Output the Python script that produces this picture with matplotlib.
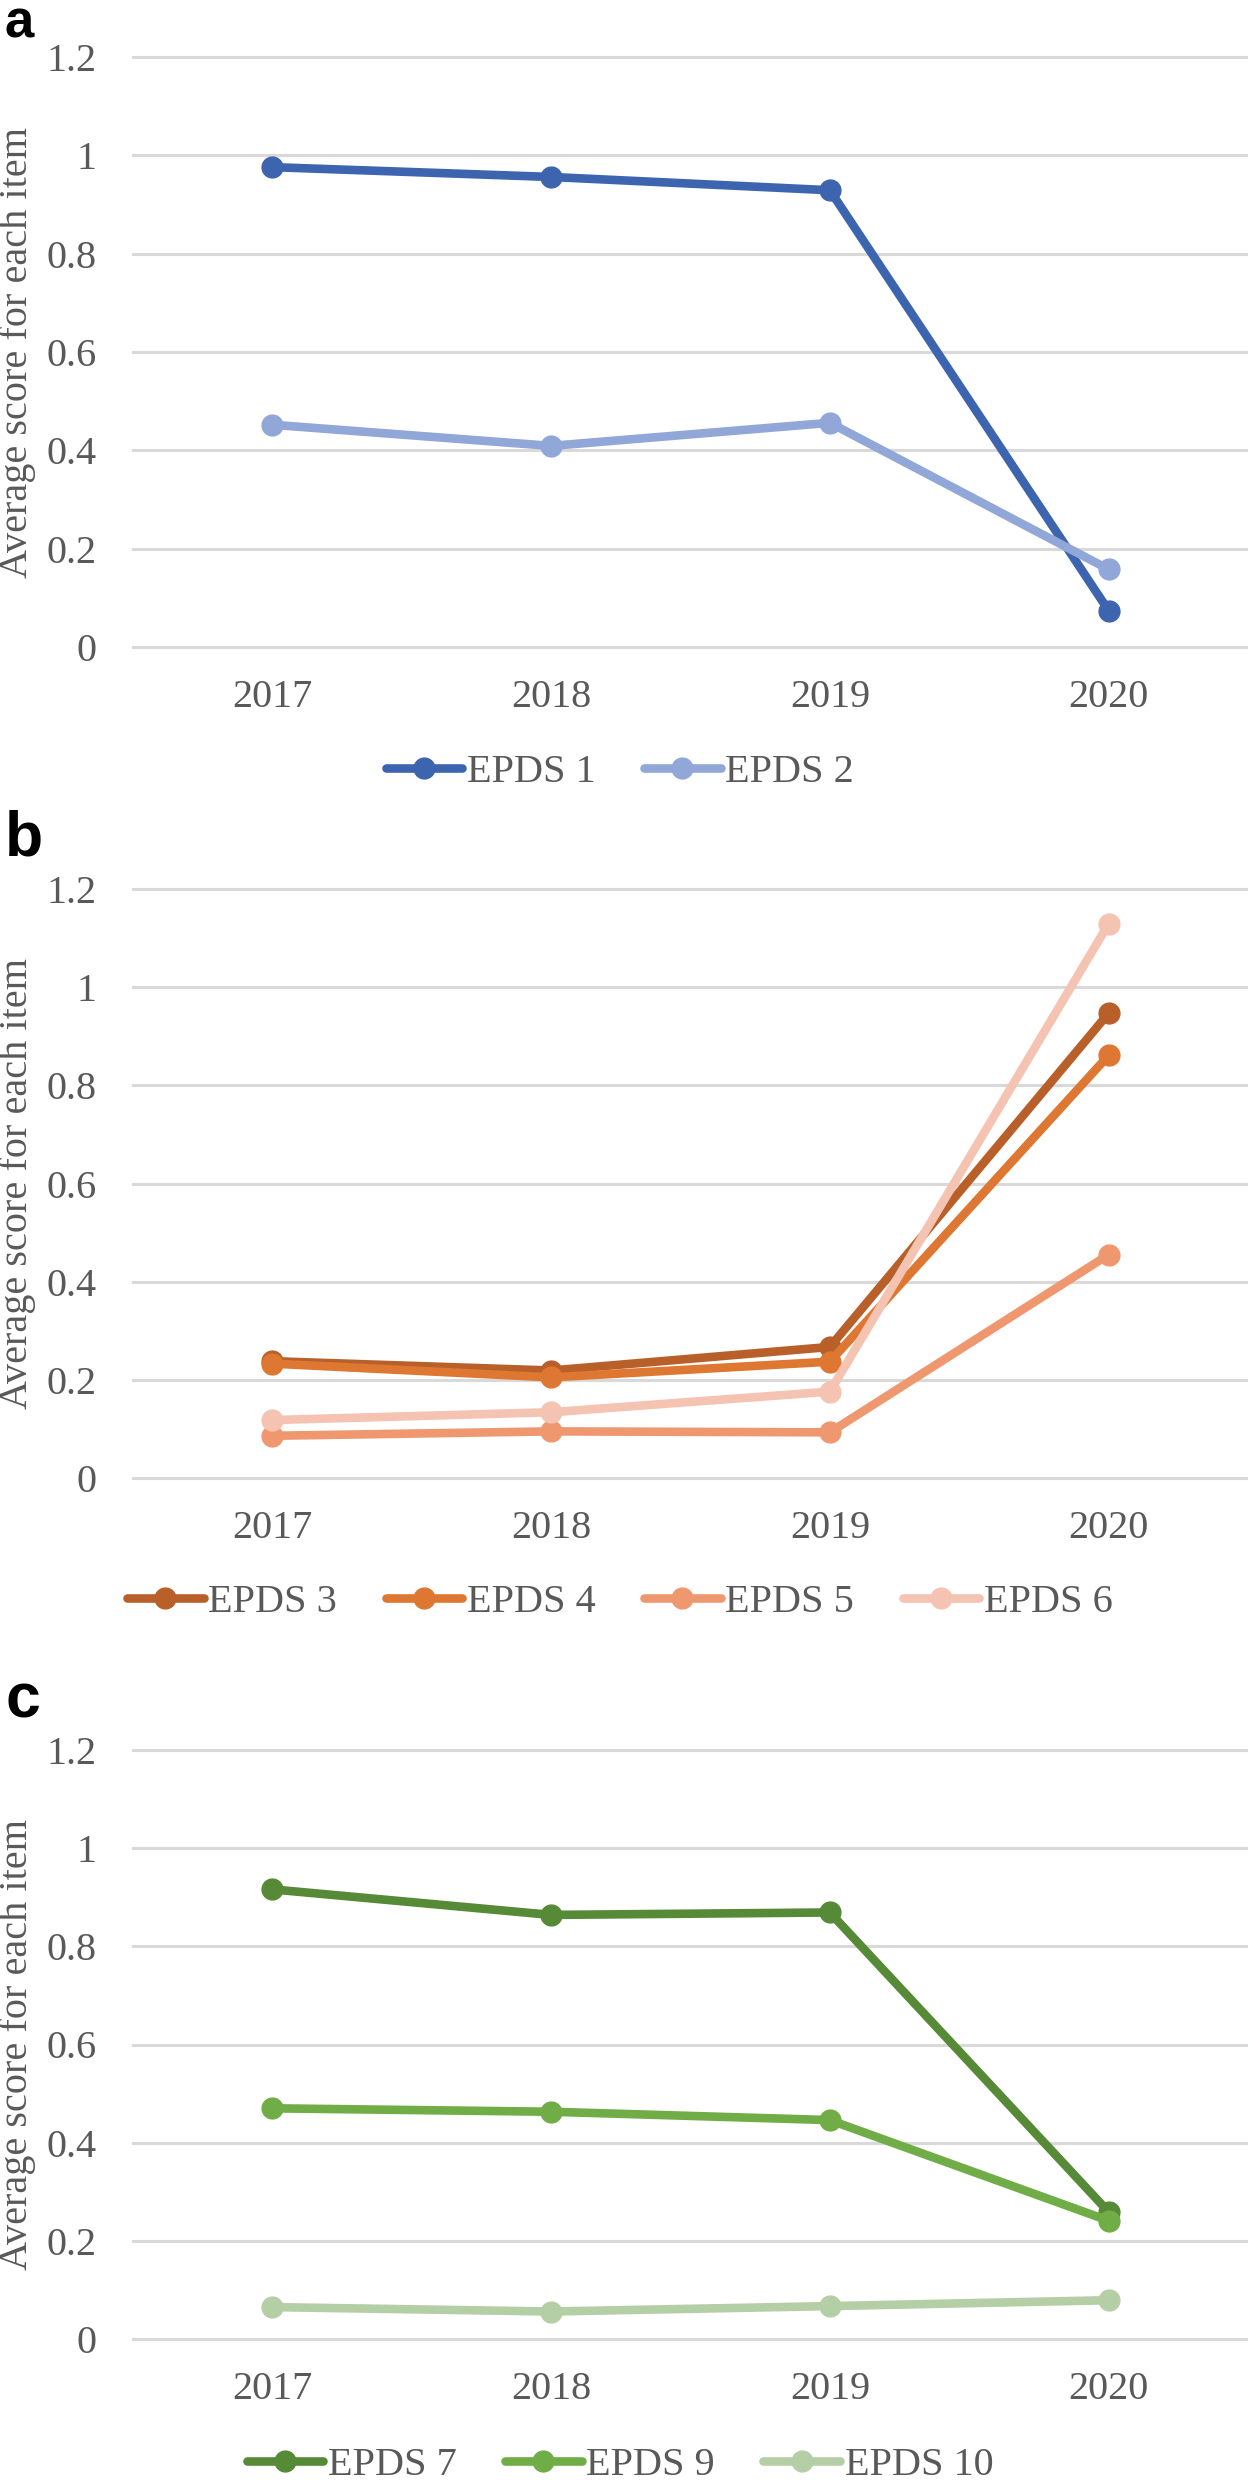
import matplotlib
matplotlib.use('Agg')
import matplotlib.pyplot as plt

# ---------------- data ----------------
years = ['2017', '2018', '2019', '2020']
y_ticks = [0, 0.2, 0.4, 0.6, 0.8, 1.0, 1.2]
y_tick_labels = ['0', '0.2', '0.4', '0.6', '0.8', '1', '1.2']

# panel a
epds1 = [0.976, 0.956, 0.929, 0.074]
epds2 = [0.452, 0.409, 0.456, 0.158]
# panel b
epds3 = [0.238, 0.219, 0.267, 0.947]
epds4 = [0.233, 0.205, 0.237, 0.861]
epds5 = [0.086, 0.095, 0.093, 0.455]
epds6 = [0.118, 0.134, 0.176, 1.129]
# panel c
epds7 = [0.916, 0.864, 0.869, 0.259]
epds9 = [0.470, 0.463, 0.446, 0.241]
epds10 = [0.065, 0.056, 0.067, 0.079]

names_a = ['EPDS 1', 'EPDS 2']
names_b = ['EPDS 3', 'EPDS 4', 'EPDS 5', 'EPDS 6']
names_c = ['EPDS 7', 'EPDS 9', 'EPDS 10']

colors_a = ['#3D64AE', '#90A7D8']
colors_b = ['#B9602A', '#DE7731', '#EF9870', '#F5C3B1']
colors_c = ['#568A37', '#70AD47', '#B4CFA6']

y_label = 'Average score for each item'

# ---------------- style ----------------
W, H = 1248, 2480
DPI = 100
TXT = '#595959'
SERIF = ['Liberation Serif', 'DejaVu Serif']
FS = 29

fig = plt.figure(figsize=(W / DPI, H / DPI), dpi=DPI)
fig.patch.set_facecolor('white')


def px_rect(left, top0, bottom0):
    # top0: y pixel of 1.2 gridline, bottom0: y pixel of 0 gridline
    return [left / W, 1 - bottom0 / H, (W - left) / W, (bottom0 - top0) / H]


def panel(top0, bottom0, series, names, colors, legend_y, letter, letter_y, letter_fs):
    ax = fig.add_axes(px_rect(133, top0, bottom0))
    x = list(range(len(years)))
    handles = []
    for vals, name, c in zip(series, names, colors):
        h, = ax.plot(x, vals, color=c, lw=6.2, marker='o', ms=15,
                     solid_capstyle='round', solid_joinstyle='round',
                     label=name, zorder=3, clip_on=False)
        handles.append(h)
    ax.set_xlim(-0.5, len(years) - 0.5)
    ax.set_ylim(0, 1.2)
    for t in y_ticks:
        ax.axhline(t, color='#D9D9D9', lw=2.2, zorder=1, clip_on=False)
    ax.set_xticks(x)
    ax.set_xticklabels(years)
    ax.set_yticks(y_ticks)
    ax.set_yticklabels(y_tick_labels)
    for s in ax.spines.values():
        s.set_visible(False)
    ax.tick_params(axis='y', length=0, pad=26, labelsize=FS, labelcolor=TXT)
    ax.tick_params(axis='x', length=0, pad=23, labelsize=FS, labelcolor=TXT)
    for lab in ax.get_xticklabels() + ax.get_yticklabels():
        lab.set_family(SERIF)
    ax.set_facecolor('none')

    fig.text(17 / W, 1 - ((top0 + bottom0) / 2) / H, y_label, rotation=90,
             ha='center', va='center', fontsize=FS, color=TXT, family=SERIF)

    fig.legend(handles=handles, loc='center',
               bbox_to_anchor=(620 / W, 1 - legend_y / H),
               ncol=len(handles), frameon=False, numpoints=1,
               handlelength=1.9, handletextpad=0.12, columnspacing=1.2,
               borderpad=0, borderaxespad=0,
               prop={'family': SERIF, 'size': FS}, labelcolor=TXT)

    fig.text(5 / W, 1 - letter_y / H, letter, ha='left', va='baseline',
             fontsize=letter_fs, fontweight='bold', color='black',
             family=['Liberation Sans', 'DejaVu Sans'])
    return ax


panel(57, 647, [epds1, epds2], names_a, colors_a, 772, 'a', 37, 38)
panel(889, 1478, [epds3, epds4, epds5, epds6], names_b, colors_b, 1602, 'b', 855, 45)
panel(1750, 2339, [epds7, epds9, epds10], names_c, colors_c, 2465, 'c', 1718, 45)

fig.savefig('out.png', dpi=DPI, facecolor='white')
